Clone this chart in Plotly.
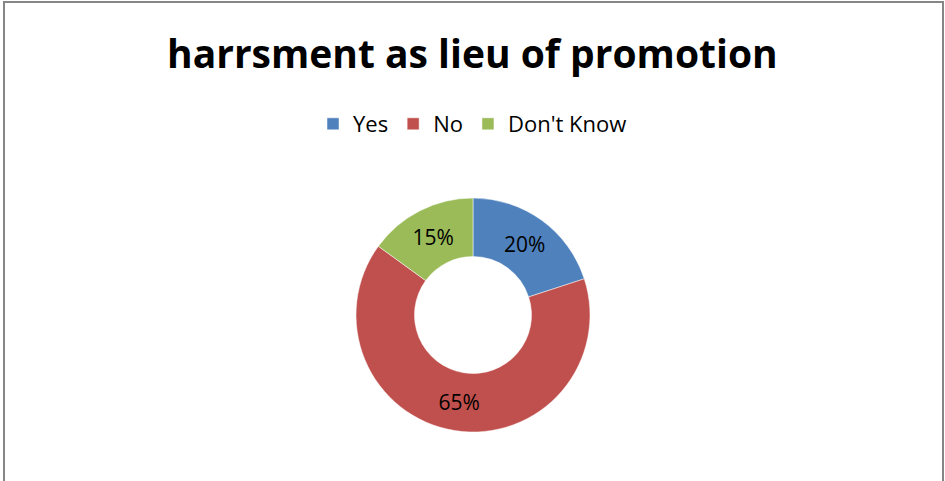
import plotly.graph_objects as go

W, H = 945, 481

labels = ["Yes", "No", "Don't Know"]
values = [20, 65, 15]
colors = ["#4F81BD", "#C0504D", "#9BBB59"]
title_text = "harrsment as lieu of promotion"

# donut geometry in pixels
cx, cy, r = 473, 315, 117

fig = go.Figure(
    go.Pie(
        labels=labels,
        values=values,
        hole=0.5,
        sort=False,
        direction="clockwise",
        rotation=0,
        marker=dict(colors=colors, line=dict(color="white", width=0.5)),
        textinfo="percent",
        texttemplate="%{percent:.0%}",
        textposition="inside",
        insidetextorientation="horizontal",
        textfont=dict(family="Open Sans", size=21, color="black"),
        domain=dict(
            x=[(cx - r) / W, (cx + r) / W],
            y=[(H - cy - r) / H, (H - cy + r) / H],
        ),
        hoverinfo="label+percent",
    )
)

fig.update_layout(
    width=W,
    height=H,
    margin=dict(l=0, r=0, t=0, b=0),
    paper_bgcolor="white",
    plot_bgcolor="white",
    showlegend=True,
    legend=dict(
        orientation="h",
        x=0.5,
        xanchor="center",
        y=1 - 124 / H,
        yanchor="middle",
        font=dict(family="Open Sans", size=22, color="black"),
        itemwidth=30,
        traceorder="normal",
    ),
    annotations=[
        dict(
            text="<b>" + title_text + "</b>",
            x=0.5,
            y=1 - 52 / H,
            xref="paper",
            yref="paper",
            xanchor="center",
            yanchor="middle",
            showarrow=False,
            font=dict(family="Open Sans", size=39, color="black"),
        )
    ],
    shapes=[
        dict(
            type="rect",
            xref="paper",
            yref="paper",
            x0=4 / W,
            x1=943 / W,
            y0=-0.02,
            y1=1 - 2 / H,
            line=dict(color="#868686", width=2),
            fillcolor="rgba(0,0,0,0)",
        )
    ],
)

fig.write_html("out.html")
